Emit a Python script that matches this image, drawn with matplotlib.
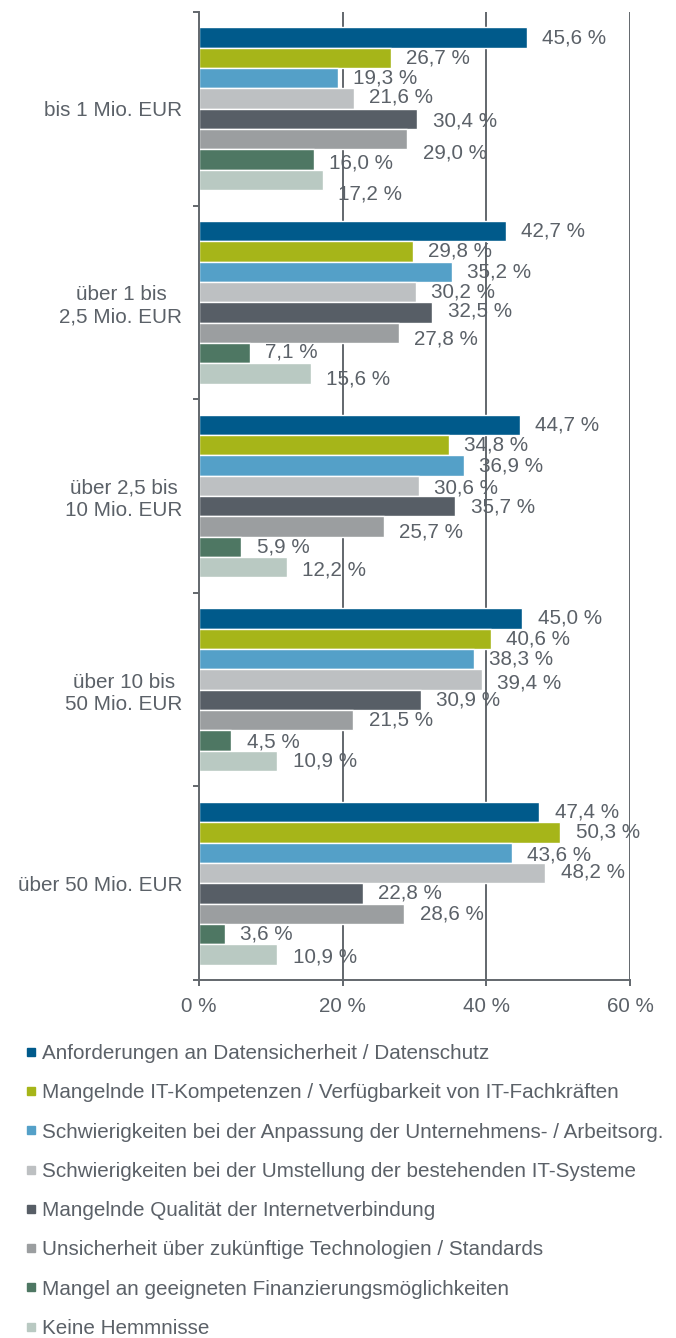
import numpy as np
import matplotlib.pyplot as plt
from matplotlib.lines import Line2D

plt.rcParams['font.family'] = ['Liberation Sans', 'DejaVu Sans']

groups = ["bis 1 Mio. EUR", "über 1 bis\n2,5 Mio. EUR", "über 2,5 bis\n10 Mio. EUR",
          "über 10 bis\n50 Mio. EUR", "über 50 Mio. EUR"]

series_names = [
    "Anforderungen an Datensicherheit / Datenschutz",
    "Mangelnde IT-Kompetenzen / Verfügbarkeit von IT-Fachkräften",
    "Schwierigkeiten bei der Anpassung der Unternehmens- / Arbeitsorg.",
    "Schwierigkeiten bei der Umstellung der bestehenden IT-Systeme",
    "Mangelnde Qualität der Internetverbindung",
    "Unsicherheit über zukünftige Technologien / Standards",
    "Mangel an geeigneten Finanzierungsmöglichkeiten",
    "Keine Hemmnisse",
]

datenschutz = [45.6, 42.7, 44.7, 45.0, 47.4]
it_kompetenz = [26.7, 29.8, 34.8, 40.6, 50.3]
anpassung = [19.3, 35.2, 36.9, 38.3, 43.6]
umstellung = [21.6, 30.2, 30.6, 39.4, 48.2]
internet = [30.4, 32.5, 35.7, 30.9, 22.8]
unsicherheit = [29.0, 27.8, 25.7, 21.5, 28.6]
finanzierung = [16.0, 7.1, 5.9, 4.5, 3.6]
keine = [17.2, 15.6, 12.2, 10.9, 10.9]

values = [datenschutz, it_kompetenz, anpassung, umstellung, internet,
          unsicherheit, finanzierung, keine]

colors = ["#005a8b", "#a6b519", "#54a0c8", "#bdc0c2", "#575e66",
          "#9b9ea0", "#4e7763", "#b9c9c2"]

# label nudges in pixels (down = positive), per group and series
nudge = [[0, 0, 0, -2, 2, 14, 3, 14],
         [0, -1, 0, 0, -2, 6, -1, 5],
         [0, 0, 0, 2, 1, 6, 0, 3],
         [0, 0, 0, 4, 0, 0, 2, 0],
         [0, 0, 2, -1, 0, 0, 0, 3]]

txt = "#5b6168"
axcol = "#62676d"
fs = 14.9

fig = plt.figure(figsize=(6.76, 13.38), dpi=100)
ax = fig.add_axes([199 / 676, 1 - 980 / 1338, 431 / 676, 968 / 1338])

n = len(values)
h = 0.105
y = np.arange(len(groups))
for i in range(n):
    pos = y - (n - 1) / 2 * h + i * h
    ax.barh(pos, values[i], height=h, color=colors[i], edgecolor="white",
            linewidth=1, zorder=2)
    for g in range(len(groups)):
        v = values[i][g]
        ax.annotate(f"{v:.1f} %".replace(".", ","), (v, pos[g]),
                    xytext=(11, -nudge[g][i] * 0.72), textcoords="offset points",
                    ha="left", va="center", fontsize=fs, color=txt, zorder=3)

ax.set_xlim(0, 60)
ax.set_ylim(4.5, -0.5)
ax.set_xticks([0, 20, 40, 60])
ax.set_xticklabels(["0 %", "20 %", "40 %", "60 %"])
ax.set_yticks(y)
ax.set_yticklabels(groups)
for t in ax.get_yticklabels():
    t.set_multialignment("center")
ax.set_yticks(np.arange(-0.5, 5, 1), minor=True)
ax.tick_params(axis="y", which="major", length=0, pad=12, labelsize=fs, labelcolor=txt)
ax.tick_params(axis="y", which="minor", length=4.5, width=1.4, color=axcol, direction="out")
ax.tick_params(axis="x", length=4.5, width=1.4, color=axcol, pad=8, labelsize=fs, labelcolor=txt)

for xg in [20, 40, 60]:
    ax.axvline(xg, color=axcol, linewidth=1.4, zorder=1)

for s in ["top", "right"]:
    ax.spines[s].set_visible(False)
for s in ["left", "bottom"]:
    ax.spines[s].set_color(axcol)
    ax.spines[s].set_linewidth(1.4)

handles = [Line2D([], [], marker="s", linestyle="", color=c, markersize=5.8) for c in colors]
fig.legend(handles, series_names, loc="upper left", bbox_to_anchor=(25 / 676, 1 - 1044 / 1338),
           frameon=False, fontsize=fs, labelcolor=txt, borderpad=0, borderaxespad=0,
           handlelength=0.6, handletextpad=0.2, labelspacing=0.98)

plt.savefig("out.png", dpi=100)
